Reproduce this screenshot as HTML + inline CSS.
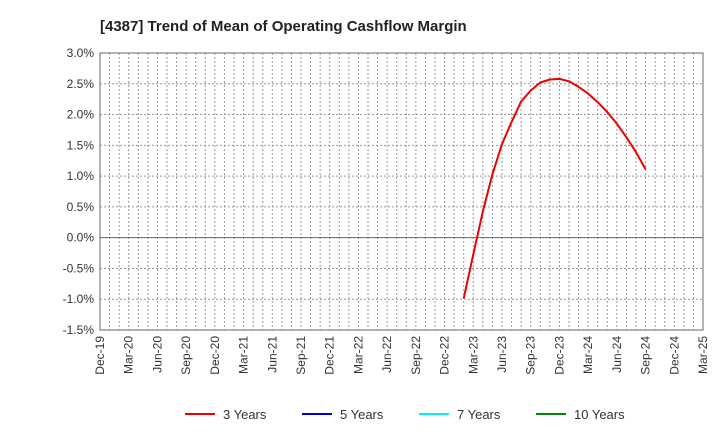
<!DOCTYPE html>
<html><head><meta charset="utf-8"><style>
body{margin:0;background:#fff;font-family:"Liberation Sans",sans-serif}
</style></head><body>
<svg id="c" width="720" height="440" xmlns="http://www.w3.org/2000/svg">
<text x="100" y="31" font-size="15" font-weight="bold" fill="#222">[4387]  Trend of Mean of Operating Cashflow Margin</text>
<g id="grid"></g><g id="axes"></g><g id="series"></g><g id="legend"></g>
</svg>
<script>
const xLabels=["Dec-19","Mar-20","Jun-20","Sep-20","Dec-20","Mar-21","Jun-21","Sep-21","Dec-21","Mar-22","Jun-22","Sep-22","Dec-22","Mar-23","Jun-23","Sep-23","Dec-23","Mar-24","Jun-24","Sep-24","Dec-24","Mar-25"];
const yTicks=[3.0,2.5,2.0,1.5,1.0,0.5,0.0,-0.5,-1.0,-1.5];
const startMonth=38; // Feb-23, months since Dec-19
const series3=[-0.99,-0.27,0.43,1.03,1.52,1.88,2.21,2.39,2.52,2.57,2.58,2.54,2.45,2.34,2.20,2.04,1.85,1.63,1.39,1.11];
const legendNames=["3 Years","5 Years","7 Years","10 Years"];
const legendColors=["#e00","#00c","#0ee","#080"];
const NS="http://www.w3.org/2000/svg";
const L=100,R=703,T=53,B=330,months=63;
const xs=m=>L+(R-L)*m/months;
const ys=v=>T+(3.0-v)/4.5*(B-T);
function mk(t,a,p){const e=document.createElementNS(NS,t);for(const k in a)e.setAttribute(k,a[k]);p.appendChild(e);return e;}
const grid=document.getElementById('grid'),axes=document.getElementById('axes'),ser=document.getElementById('series'),leg=document.getElementById('legend');
for(let m=1;m<months;m++){const l=mk('line',{x1:xs(m),x2:xs(m),y1:T,y2:B,stroke:'#999','stroke-dasharray':'2,2','stroke-width':1},grid);

}
yTicks.forEach(v=>{const y=ys(v);
const l=mk('line',{x1:L,x2:R,y1:y,y2:y,stroke:v===0?'#666':'#999','stroke-dasharray':v===0?'':'2,2','stroke-width':1},grid);


const t=mk('text',{x:L-6,y:y+4,'text-anchor':'end','font-size':12,fill:'#333'},axes);t.textContent=v.toFixed(1)+'%';

});
const fr=mk('rect',{x:L,y:T,width:R-L,height:B-T,fill:'none',stroke:'#666'},axes);


xLabels.forEach((s,i)=>{const x=xs(i*3);const t=mk('text',{transform:`translate(${x+4},${B+6}) rotate(-90)`,'text-anchor':'end','font-size':12,fill:'#333'},axes);t.textContent=s;

});
const pts=series3.map((v,i)=>xs(startMonth+i).toFixed(1)+','+ys(v).toFixed(1)).join(' ');
const pl=mk('polyline',{points:pts,fill:'none',stroke:'#e00','stroke-width':2,'stroke-linejoin':'round'},ser);


const lx=[185,302,419,536];
legendNames.forEach((n,i)=>{const g=mk('g',{},leg);


mk('line',{x1:lx[i],x2:lx[i]+30,y1:414,y2:414,stroke:legendColors[i],'stroke-width':2},g);
const t=mk('text',{x:lx[i]+38,y:419,'font-size':13,fill:'#333'},g);t.textContent=n;});
</script>
</body></html>
